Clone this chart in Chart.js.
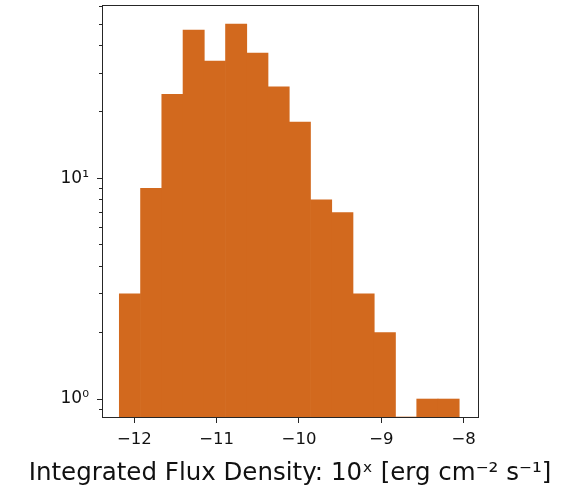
<!DOCTYPE html>
<html>
<head>
<meta charset="utf-8">
<script src="https://cdn.jsdelivr.net/npm/chart.js@4/dist/chart.umd.min.js"></script>
<style>
  html, body { margin: 0; padding: 0; background: #ffffff; }
  canvas { display: block; }
</style>
</head>
<body>
<canvas id="hist" width="573" height="489"></canvas>
<script>
// Histogram of log10 integrated flux density (16 equal-width bins)
const binStart = -12.182;
const binWidth = 0.258;
const counts = [3, 9, 24, 47, 34, 50, 37, 26, 18, 8, 7, 3, 2, 0, 1, 1];

// Axis ticks
const xTicks = [-12, -11, -10, -9, -8];
const yMajorTicks = [1, 10];
const yMajorLabels = ['10\u2070', '10\u00B9'];
const yMinorTicks = [0.9, 2, 3, 4, 5, 6, 7, 8, 9, 20, 30, 40, 50, 60];

const xLabel = 'Integrated Flux Density: 10\u02E3 [erg cm\u207B\u00B2 s\u207B\u00B9]';

const X_MIN = -12.38, X_MAX = -7.826;
const Y_MIN = 0.829, Y_MAX = 60.4;

const FONT = 'DejaVu Sans';
const TEXT = '#111111';
const AXIS = '#262626';

const barData = counts.map((c, i) => ({ x: binStart + (i + 0.5) * binWidth, y: c }));

// Closed frame around the plotting area
const frame = {
  id: 'frame',
  afterDatasetsDraw(chart) {
    const { ctx, chartArea: a } = chart;
    ctx.save();
    ctx.strokeStyle = AXIS;
    ctx.lineWidth = 1;
    ctx.strokeRect(a.left - 0.5, a.top - 0.5, a.right - a.left + 1, a.bottom - a.top + 1);
    ctx.restore();
  }
};

const noPad = s => { s.paddingTop = 0; s.paddingBottom = 0; s.paddingLeft = 0; s.paddingRight = 0; };

new Chart(document.getElementById('hist'), {
  type: 'bar',
  data: {
    datasets: [{
      data: barData,
      backgroundColor: '#d2691e',
      borderWidth: 0,
      barPercentage: 1,
      categoryPercentage: 1,
      yAxisID: 'y'
    }]
  },
  options: {
    responsive: false,
    devicePixelRatio: 1,
    animation: false,
    layout: { padding: { left: 7, right: 0, top: 6, bottom: 0 } },
    plugins: {
      legend: { display: false },
      tooltip: { enabled: false },
      title: {
        display: true,
        position: 'bottom',
        text: xLabel,
        color: TEXT,
        font: { family: FONT, size: 24.5, weight: 'normal', lineHeight: 1.2 },
        padding: { top: 0, bottom: 1 }
      }
    },
    scales: {
      x: {
        type: 'linear',
        offset: false,
        min: X_MIN,
        max: X_MAX,
        afterBuildTicks: s => { s.ticks = xTicks.map(v => ({ value: v })); },
        afterFit: s => { s.height = 41.6; noPad(s); },
        ticks: {
          autoSkip: false,
          maxRotation: 0,
          padding: 7,
          color: TEXT,
          font: { family: FONT, size: 16.5 },
          callback: v => (v < 0 ? '\u2212' + Math.abs(v) : String(v))
        },
        grid: { offset: false, drawOnChartArea: false, tickLength: 6, tickColor: AXIS, tickWidth: 1 },
        border: { display: false }
      },
      y: {
        type: 'logarithmic',
        position: 'left',
        weight: 1,
        min: Y_MIN,
        max: Y_MAX,
        afterBuildTicks: s => { s.ticks = yMajorTicks.map(v => ({ value: v })); },
        afterFit: s => { s.width = 96; noPad(s); },
        ticks: {
          autoSkip: false,
          padding: 8,
          color: TEXT,
          font: { family: FONT, size: 17 },
          callback: v => { const i = yMajorTicks.indexOf(v); return i >= 0 ? yMajorLabels[i] : ''; }
        },
        grid: { drawOnChartArea: false, tickLength: 6, tickColor: AXIS, tickWidth: 1 },
        border: { display: false }
      },
      yMinor: {
        type: 'logarithmic',
        position: 'left',
        weight: 0,
        min: Y_MIN,
        max: Y_MAX,
        afterBuildTicks: s => { s.ticks = yMinorTicks.map(v => ({ value: v })); },
        afterFit: s => { s.width = 0; noPad(s); },
        ticks: { display: false },
        grid: { drawOnChartArea: false, tickLength: 4, tickColor: AXIS, tickWidth: 1 },
        border: { display: false }
      },
      // empty right-hand margin beside the plot
      rightMargin: {
        type: 'linear',
        position: 'right',
        afterFit: s => { s.width = 95; noPad(s); },
        ticks: { display: false },
        grid: { display: false, drawTicks: false },
        border: { display: false }
      }
    }
  },
  plugins: [frame]
});
</script>
</body>
</html>
